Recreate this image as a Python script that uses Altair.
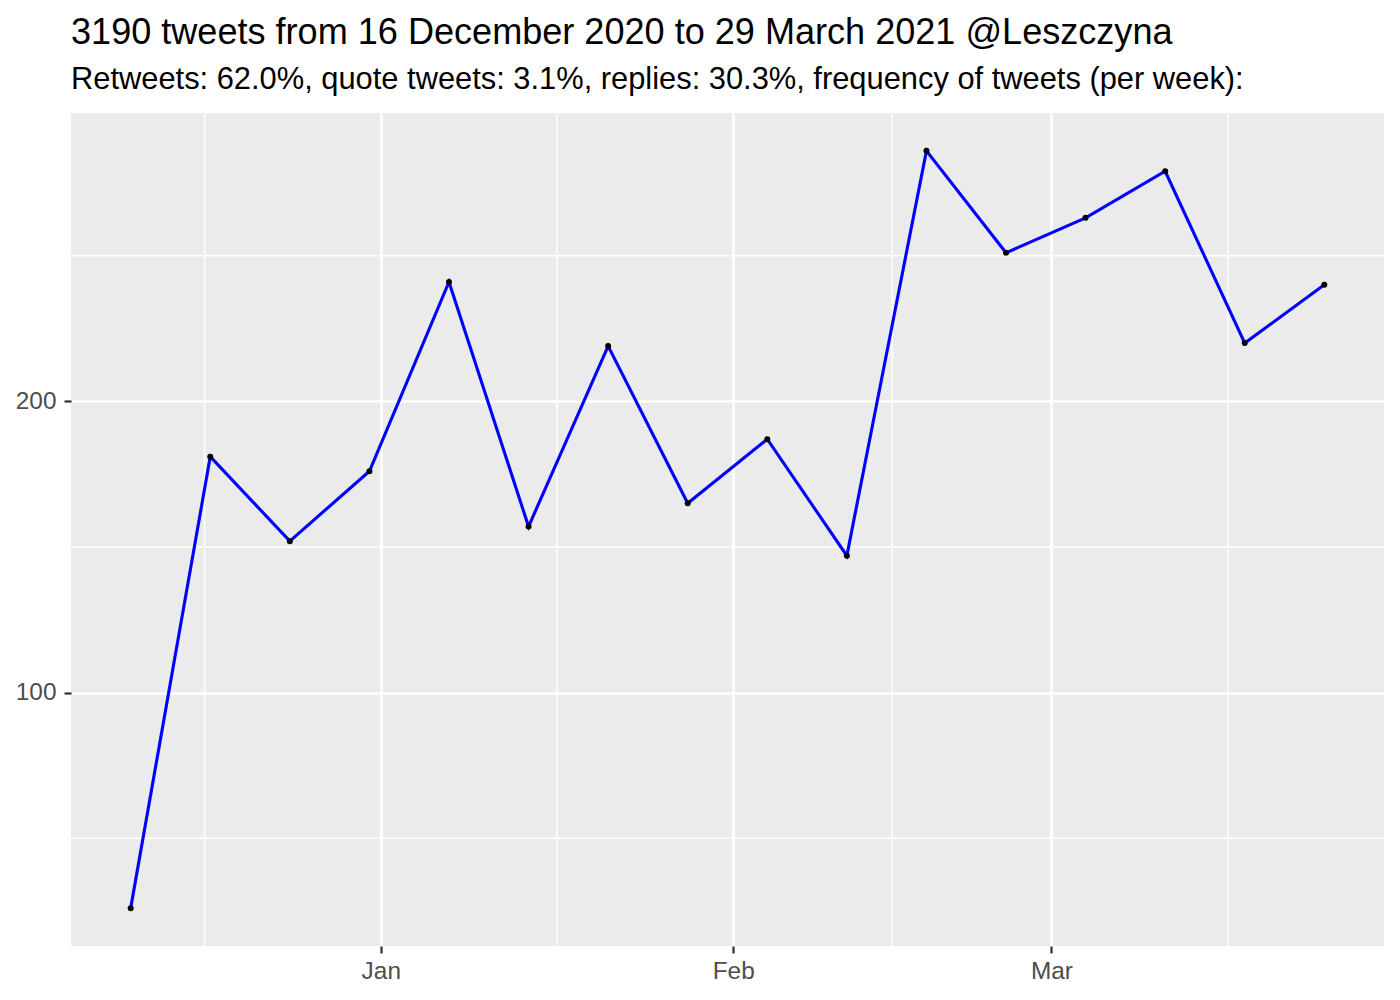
import altair as alt
import pandas as pd

# Weekly tweet counts (week start dates, Thursdays)
week_dates = ["2020-12-10", "2020-12-17", "2020-12-24", "2020-12-31",
              "2021-01-07", "2021-01-14", "2021-01-21", "2021-01-28",
              "2021-02-04", "2021-02-11", "2021-02-18", "2021-02-25",
              "2021-03-04", "2021-03-11", "2021-03-18", "2021-03-25"]
tweet_counts = [26, 181, 152, 176, 241, 157, 219, 165,
                187, 147, 286, 251, 263, 279, 220, 240]

y_major = [100, 200]
y_minor = [50, 150, 250]
x_minor = ["2020-12-16T12:00:00Z", "2021-01-16T12:00:00Z",
           "2021-02-15T00:00:00Z", "2021-03-16T12:00:00Z"]

title_text = "3190 tweets from 16 December 2020 to 29 March 2021 @Leszczyna"
subtitle_text = "Retweets: 62.0%, quote tweets: 3.1%, replies: 30.3%, frequency of tweets (per week):"

FONT = "Liberation Sans"

df = pd.DataFrame({"date": week_dates, "n": tweet_counts})
df_ymin = pd.DataFrame({"v": y_minor})
df_xmin = pd.DataFrame({"d": x_minor})

x_scale = alt.Scale(
    type="utc",
    domain=[alt.DateTime(year=2020, month=12, date=4, hours=18, utc=True),
            alt.DateTime(year=2021, month=3, date=30, hours=6, utc=True)],
    nice=False,
)
y_scale = alt.Scale(domain=[13, 299], nice=False, zero=False)

x_axis = alt.Axis(
    values=[alt.DateTime(year=2021, month=1, date=1, utc=True),
            alt.DateTime(year=2021, month=2, date=1, utc=True),
            alt.DateTime(year=2021, month=3, date=1, utc=True)],
    labelExpr="utcFormat(datum.value, '%b')",
    grid=True, gridColor="white", gridWidth=2.7,
    domain=False, tickColor="#333333", tickWidth=2.2, tickSize=7,
    labelFont=FONT, labelFontSize=24.4, labelColor="#4D4D4D",
    labelPadding=6, title=None,
)
y_axis = alt.Axis(
    values=y_major,
    grid=True, gridColor="white", gridWidth=2.7,
    domain=False, tickColor="#333333", tickWidth=2.2, tickSize=7,
    labelFont=FONT, labelFontSize=24.4, labelColor="#4D4D4D",
    labelPadding=8, title=None,
)

ymin_rules = alt.Chart(df_ymin).mark_rule(color="white", strokeWidth=1.4).encode(
    y=alt.Y("v:Q", scale=y_scale, axis=y_axis)
)
xmin_rules = alt.Chart(df_xmin).mark_rule(color="white", strokeWidth=1.4).encode(
    x=alt.X("d:T", scale=x_scale, axis=x_axis)
)

line = alt.Chart(df).mark_line(color="#0000FF", strokeWidth=3.1).encode(
    x=alt.X("date:T", scale=x_scale, axis=x_axis),
    y=alt.Y("n:Q", scale=y_scale, axis=y_axis),
)
points = alt.Chart(df).mark_circle(color="black", size=36, opacity=1).encode(
    x=alt.X("date:T", scale=x_scale, axis=x_axis),
    y=alt.Y("n:Q", scale=y_scale, axis=y_axis),
)

chart = alt.layer(ymin_rules, xmin_rules, line, points).properties(
    width=1313,
    height=833,
    autosize=alt.AutoSizeParams(type="none"),
    padding={"left": 63, "top": 105, "right": 8, "bottom": 46},
    title=alt.TitleParams(
        text=title_text,
        subtitle=subtitle_text,
        anchor="start",
        frame="group",
        font=FONT,
        fontSize=36.1,
        fontWeight="normal",
        color="black",
        subtitleFont=FONT,
        subtitleFontSize=30.85,
        subtitleColor="black",
        offset=17,
        subtitlePadding=14,
    ),
).configure(background="white").configure_view(fill="#EBEBEB", strokeWidth=0)

chart.save("out.html", embed_options={"renderer": "svg", "actions": False})
